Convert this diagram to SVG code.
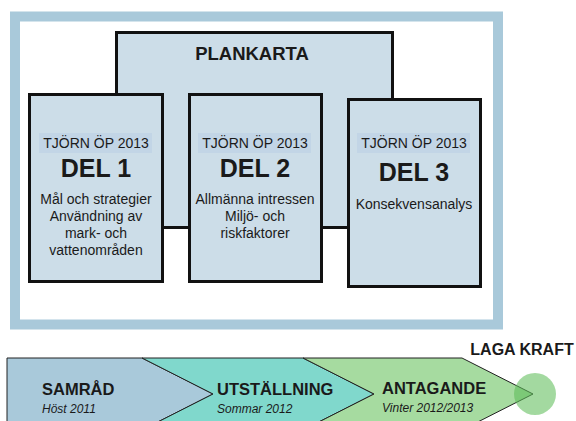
<svg xmlns="http://www.w3.org/2000/svg" width="576" height="421" viewBox="0 0 576 421">
<style>
text{font-family:"Liberation Sans",Arial,sans-serif;fill:#1a1a1a;text-anchor:middle}
.box{fill:#ccdde8;stroke:#111;stroke-width:3}
.hl{fill:#c2d5e6}
.sub{font-size:14px}
.del{font-size:25px;font-weight:bold}
.body{font-size:14px}
.ph{font-size:16.5px;font-weight:bold;text-anchor:start}
.dt{font-size:12px;font-style:italic;text-anchor:start}
.chev{stroke:#222;stroke-width:1}
</style>
<rect width="576" height="421" fill="#ffffff"/>
<rect id="frame" x="15" y="16.5" width="483" height="308" fill="#ffffff" stroke="#a9c9da" stroke-width="10"/>
<g id="plankarta">
<rect class="box" x="116.5" y="32.5" width="276" height="195"/>
<text x="252" y="60" style="font-size:18.5px;font-weight:bold">PLANKARTA</text>
</g>
<g id="del1">
<rect class="box" x="29.5" y="94.5" width="133" height="187"/>
<rect class="hl" x="39" y="133" width="113" height="20"/>
<text class="sub" x="96" y="148">TJÖRN ÖP 2013</text>
<text class="del" x="96" y="177">DEL 1</text>
<text class="body" x="96" y="204">Mål och strategier</text>
<text class="body" x="96" y="221">Användning av</text>
<text class="body" x="96" y="238">mark- och</text>
<text class="body" x="96" y="255">vattenområden</text>
</g>
<g id="del2">
<rect class="box" x="189.5" y="94.5" width="132" height="187"/>
<rect class="hl" x="198" y="133" width="113" height="20"/>
<text class="sub" x="255" y="148">TJÖRN ÖP 2013</text>
<text class="del" x="255" y="177">DEL 2</text>
<text class="body" x="255" y="204">Allmänna intressen</text>
<text class="body" x="255" y="221">Miljö- och</text>
<text class="body" x="255" y="238">riskfaktorer</text>
</g>
<g id="del3">
<rect class="box" x="348.5" y="99.5" width="132" height="187"/>
<rect class="hl" x="357" y="133" width="113" height="20"/>
<text class="sub" x="414" y="148">TJÖRN ÖP 2013</text>
<text class="del" x="414" y="181">DEL 3</text>
<text class="body" x="414" y="209">Konsekvensanalys</text>
</g>
<g id="connectors"></g>
<g id="samrad">
<path class="chev" d="M7,358 L142,358 L213,394 L142,430 L7,430 Z" fill="#a9c9da"/>
<text class="ph" x="42" y="395">SAMRÅD</text>
<text class="dt" x="42" y="413">Höst 2011</text>
</g>
<g id="utstallning">
<path class="chev" d="M142,358 L303,358 L374,394 L303,430 L142,430 L213,394 Z" fill="#80d8cc"/>
<text class="ph" x="217" y="395">UTSTÄLLNING</text>
<text class="dt" x="217" y="413">Sommar 2012</text>
</g>
<g id="antagande">
<path class="chev" d="M303,358 L462,358 L533,394 L462,430 L303,430 L374,394 Z" fill="#a6dba0"/>
<text class="ph" x="382" y="394">ANTAGANDE</text>
<text class="dt" x="382" y="412">Vinter 2012/2013</text>
</g>
<g id="lagakraft">
<circle cx="535" cy="394" r="21" fill="#5dbc58" fill-opacity="0.57"/>
<text x="522" y="355" style="font-size:16px;font-weight:bold">LAGA KRAFT</text>
</g>
</svg>
